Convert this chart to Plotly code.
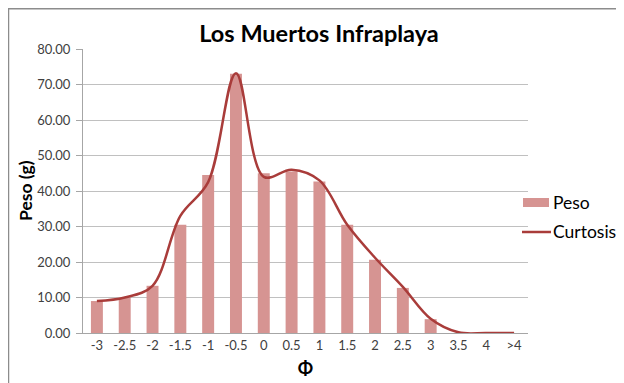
import plotly.graph_objects as go

categories = ["-3", "-2.5", "-2", "-1.5", "-1", "-0.5", "0", "0.5", "1", "1.5", "2", "2.5", "3", "3.5", "4", ">4"]
peso = [9.0, 10.0, 13.3, 30.5, 44.5, 73.0, 45.0, 45.5, 42.7, 30.5, 20.6, 12.7, 3.9, 0.0, 0.0, 0.0]
curtosis = [9.0, 10.0, 13.3, 33.0, 42.5, 73.2, 44.0, 46.0, 43.0, 30.5, 21.2, 13.0, 4.0, 0.2, 0.0, 0.0]
y_ticks = [0, 10, 20, 30, 40, 50, 60, 70, 80]
series_names = ["Peso", "Curtosis"]

# page is offset by the default 8px body margin
OFF = 8
PW, PH = 624, 383
W, H = PW - OFF, PH - OFF
L, R, T, B = 83, 528, 49, 333  # plot area in page pixels
pw, ph = R - L, B - T
BAR_COLOR = "#d69492"
LINE_COLOR = "#a93c3a"

def px(x):
    return (x - L) / pw

def py(y):
    return (B - y) / ph

fig = go.Figure()
fig.add_trace(go.Bar(
    x=categories, y=peso, name=series_names[0],
    marker=dict(color=BAR_COLOR, line=dict(width=0)),
    width=0.43, showlegend=False,
))
fig.add_trace(go.Scatter(
    x=categories, y=curtosis, name=series_names[1], mode="lines",
    line=dict(color=LINE_COLOR, width=2.5, shape="spline", smoothing=1.0),
    showlegend=False,
))

shapes = [
    dict(type="rect", xref="paper", yref="paper",
         x0=px(8.5), x1=px(640), y0=py(400), y1=py(8.7),
         line=dict(color="#8c8c8c", width=1.5), fillcolor="rgba(0,0,0,0)", layer="below"),
    # legend swatches
    dict(type="rect", xref="paper", yref="paper",
         x0=px(523), x1=px(549), y0=py(207), y1=py(198),
         line=dict(width=0), fillcolor=BAR_COLOR),
    dict(type="line", xref="paper", yref="paper",
         x0=px(522), x1=px(551), y0=py(232), y1=py(232),
         line=dict(color=LINE_COLOR, width=2.5)),
]
annotations = [
    dict(text=series_names[0], xref="paper", yref="paper", x=px(551), y=py(203),
         xanchor="left", yanchor="middle", showarrow=False,
         font=dict(size=17.5, color="#000000")),
    dict(text=series_names[1], xref="paper", yref="paper", x=px(551), y=py(232),
         xanchor="left", yanchor="middle", showarrow=False,
         font=dict(size=17.5, color="#000000")),
    dict(text="<b>Peso (g)</b>", xref="paper", yref="paper", x=px(25), y=py(191),
         xanchor="center", yanchor="middle", showarrow=False, textangle=-90,
         font=dict(size=17.5, color="#000000")),
]

fig.update_layout(
    width=W, height=H,
    margin=dict(l=L - OFF, r=PW - R, t=T - OFF, b=PH - B, autoexpand=False),
    paper_bgcolor="white", plot_bgcolor="white",
    font=dict(family="Lato, Open Sans, sans-serif", color="#404040", size=13),
    title=dict(text="<b>Los Muertos Infraplaya</b>", xref="container", x=(319 - OFF) / W,
               xanchor="center", yref="container", y=1 - (34 - OFF) / H, yanchor="middle",
               automargin=False,
               font=dict(size=23.5, color="#000000", family="Lato, sans-serif")),
    showlegend=False,
    bargap=0.57,
    shapes=shapes,
    annotations=annotations,
)
fig.update_xaxes(
    type="category", categoryorder="array", categoryarray=categories,
    showline=True, linecolor="#a6a6a6", linewidth=1, automargin=False,
    ticks="", tickfont=dict(size=13, color="#404040"),
    title=dict(text="<b>Φ</b>", font=dict(size=18, color="#000000"), standoff=10),
    showgrid=False,
)
fig.update_yaxes(
    range=[0, 80], tickvals=y_ticks, tickformat=".2f", automargin=False,
    showgrid=True, gridcolor="#c0c0c0", gridwidth=1,
    showline=True, linecolor="#a6a6a6", linewidth=1,
    ticks="outside", ticklen=6, tickcolor="#a6a6a6", ticklabelstandoff=3,
    tickfont=dict(size=13, color="#404040"),
    zeroline=False,
)

fig.write_html("out.html")
